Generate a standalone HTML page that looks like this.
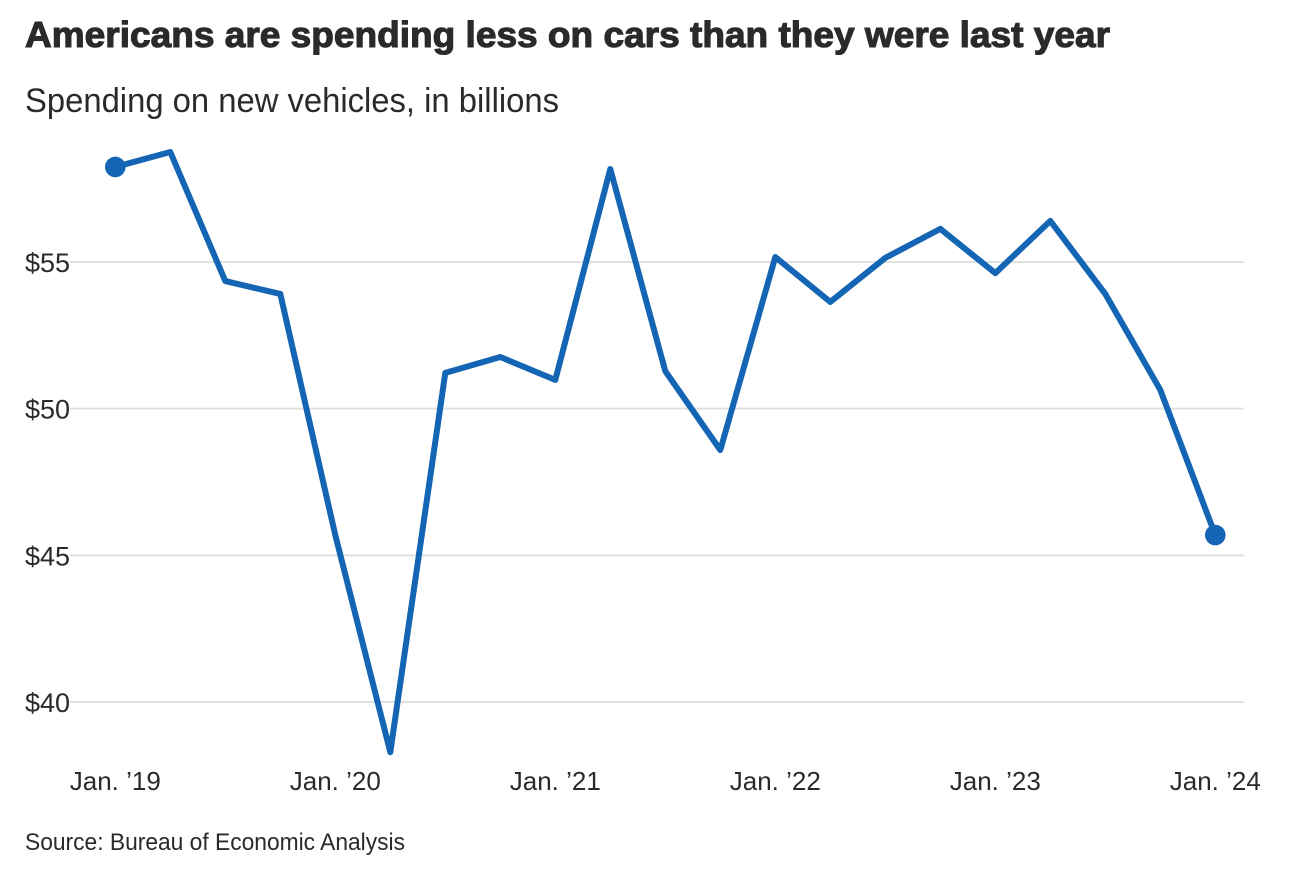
<!DOCTYPE html>
<html lang="en">
<head>
<meta charset="utf-8">
<title>Americans are spending less on cars than they were last year</title>
<style>
  html, body { margin: 0; padding: 0; background: #fff; width: 1300px; height: 876px; overflow: hidden; }
  svg { display: block; font-family: "Liberation Sans", sans-serif; }
  text { fill: #2a2a2a; }
</style>
</head>
<body>
<svg id="chart" width="1300" height="876" viewBox="0 0 1300 876" xmlns="http://www.w3.org/2000/svg">
  <text x="25" y="47" font-size="36" font-weight="700" textLength="1085" lengthAdjust="spacingAndGlyphs" stroke="#2a2a2a" stroke-width="1.1">Americans are spending less on cars than they were last year</text>
  <text x="25" y="112" font-size="34" textLength="534" lengthAdjust="spacingAndGlyphs">Spending on new vehicles, in billions</text>
  <g id="grid"></g>
  <g id="yticks"></g>
  <g id="xticks"></g>
  <g id="series"></g>
  <text x="25" y="850" font-size="24" textLength="380" lengthAdjust="spacingAndGlyphs">Source: Bureau of Economic Analysis</text>
</svg>
<script>
const quarterIndex = [0,1,2,3,4,5,6,7,8,9,10,11,12,13,14,15,16,17,18,19,20];
const spending = [58.24,58.75,54.35,53.91,45.69,38.29,51.22,51.76,50.98,58.17,51.28,48.59,55.17,53.64,55.14,56.13,54.62,56.4,53.91,50.64,45.69];
const yTickValues = [40,45,50,55];
const yTickLabels = ["$40","$45","$50","$55"];
const xTickIndex = [0,4,8,12,16,20];
const xTickLabels = ["Jan. \u201919","Jan. \u201920","Jan. \u201921","Jan. \u201922","Jan. \u201923","Jan. \u201924"];

const NS = "http://www.w3.org/2000/svg";
function xScale(i) { return 115.3 + (i / 20) * 1100; }
function yScale(v) { return 702 - (v - 40) * (440 / 15); }
function make(tag, attrs, parent) {
  const el = document.createElementNS(NS, tag);
  for (const k in attrs) el.setAttribute(k, attrs[k]);
  parent.appendChild(el);
  return el;
}

const grid = document.getElementById("grid");
const yticks = document.getElementById("yticks");
const xticks = document.getElementById("xticks");
const series = document.getElementById("series");

yTickValues.forEach(function (v, i) {
  const ln = make("line", { x1: 70, x2: 1244, y1: yScale(v), y2: yScale(v), stroke: "#e0e0e0", "stroke-width": 2 }, grid);
  
  
  const t = make("text", { x: 25, y: yScale(v) + 10, "font-size": 27 }, yticks);
  t.textContent = yTickLabels[i];
  
  
});

xTickIndex.forEach(function (q, i) {
  const t = make("text", { x: xScale(q), y: 790, "font-size": 26, "text-anchor": "middle" }, xticks);
  t.textContent = xTickLabels[i];
  
  
});

const pts = quarterIndex.map(function (q, i) { return xScale(q) + "," + yScale(spending[i]); }).join(" ");
const line = make("polyline", { points: pts, fill: "none", stroke: "#1465b4", "stroke-width": 6, "stroke-linejoin": "round", "stroke-linecap": "round" }, series);



[0, quarterIndex.length - 1].forEach(function (i) {
  const c = make("circle", { cx: xScale(quarterIndex[i]), cy: yScale(spending[i]), r: 10.3, fill: "#1465b4" }, series);
  
  
});
</script>
</body>
</html>
